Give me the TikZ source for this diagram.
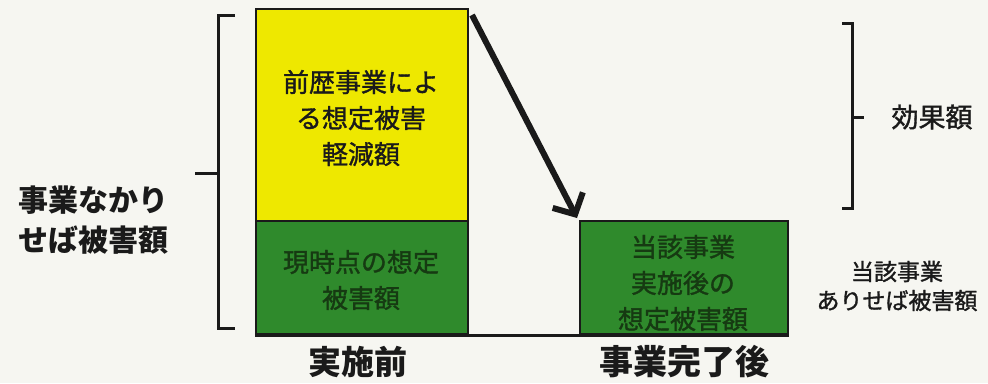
\documentclass[tikz,border=0pt]{standalone}
\usepackage{fontspec}
\setmainfont{Noto Sans CJK JP}
\newfontfamily\medfont{Noto Sans CJK JP}[FakeBold=1.3]
\usetikzlibrary{arrows.meta}
\definecolor{bg}{HTML}{F6F6F1}
\definecolor{barY}{HTML}{EEE800}
\definecolor{barG}{HTML}{2F8A2C}
\definecolor{txtG}{HTML}{163A12}
\definecolor{ink}{HTML}{1A1A1A}
\tikzset{
  bar/.style={draw=ink, line width=2pt, inner sep=0pt, anchor=north west},
  boxtext/.style={align=center, font=\medfont\fontsize{26}{36}\selectfont},
  brack/.style={draw=ink, line width=3pt},
  lbl/.style={align=center, text=ink},
}
\begin{document}
\begin{tikzpicture}[x=1pt,y=-1pt]
\fill[bg] (0,0) rectangle (988,383);
\useasboundingbox (0,0) rectangle (988,383);
% bars
\node[bar, fill=barY, minimum width=212pt, minimum height=212pt] (yel) at (255,8) {};
\node[bar, fill=barG, minimum width=212pt, minimum height=113pt] (gl) at (255,220) {};
\node[bar, fill=barG, minimum width=208pt, minimum height=113pt] (gr) at (579,220) {};
\draw[ink, line width=3pt] (gl.south west) -- (gr.south east);
% texts in bars
\node[boxtext, text=ink] (tyel) at (361,118) {前歴事業によ\\る想定被害\\軽減額};
\node[boxtext, text=txtG] (tgl) at (361,280) {現時点の想定\\被害額};
\node[boxtext, text=txtG] (tgr) at (683,283) {当該事業\\実施後の\\想定被害額};
% arrow
\coordinate (as) at (472,15);
\coordinate (ae) at (gr.north west);
\draw[ink, line width=6pt, -{Straight Barb[length=16pt,width=34pt,line width=6pt]}] (as) -- ([shift={(-2,-2)}]ae);
% left bracket
\coordinate (lbt) at (218,15);
\coordinate (lbb) at (218,328);
\draw[brack] (235,15) -- (lbt) -- (lbb) -- (235,328);
\draw[brack] (lbt |- 0,173) -- (195,173) coordinate (lbtick);
\node[lbl, font=\bfseries\fontsize{30}{40}\selectfont, anchor=east] (lleft) at (172,220) {事業なかり\\せば被害額};
% right bracket
\coordinate (rbt) at (852,23);
\coordinate (rbb) at (852,208);
\draw[brack] (842,23) -- (rbt) -- (rbb) -- (842,208);
\draw[brack] (852,117) -- (864,117) coordinate (rbtick);
\node[lbl, font=\medfont\fontsize{27}{36}\selectfont, anchor=west] (lkouka) at (888,117) {効果額};
\node[lbl, font=\medfont\fontsize{23}{29}\selectfont] (lari) at (897,286) {当該事業\\ありせば被害額};
% bottom labels
\node[lbl, font=\bfseries\fontsize{33}{40}\selectfont] (lmae) at (358,362) {実施前};
\node[lbl, font=\bfseries\fontsize{34}{40}\selectfont] (lato) at (684,362) {事業完了後};
\end{tikzpicture}
\end{document}
